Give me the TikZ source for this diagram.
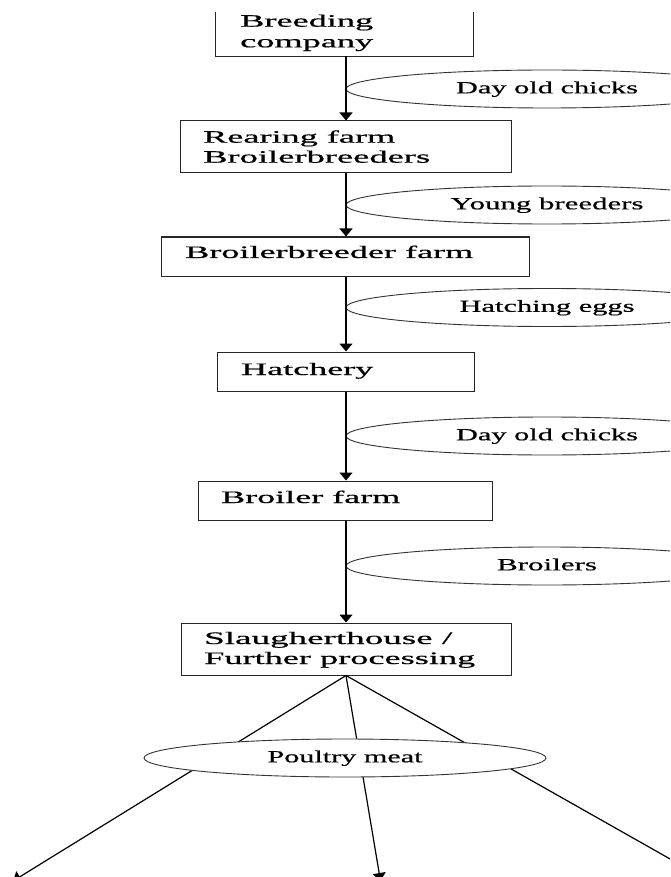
\documentclass[tikz,border=0pt]{standalone}
\usepackage{fontspec}
\setmainfont{Liberation Serif}[FakeBold=0.5]
\usetikzlibrary{shapes.geometric,arrows.meta}
\newcommand\fw[2]{\resizebox{#1pt}{\height}{#2}}
\begin{document}
\begin{tikzpicture}[x=1pt,y=-1pt,
  boxline/.style={draw=black!85,line width=1pt},
  flowbox/.style={rectangle,boxline,inner sep=0pt},
  flow/.style={ellipse,draw=black!80,line width=0.9pt,fill=white,inner sep=0pt,
    minimum width=402pt,minimum height=38pt,text height=12pt,text depth=3.4pt,
    font=\fontsize{17}{19}\selectfont},
  boxtext/.style={anchor=base west,inner sep=0pt,font=\fontsize{17.5}{20}\selectfont},
  arr/.style={line width=1.5pt,-{Triangle[width=13pt,length=8pt]}},
  fan/.style={line width=1.2pt,-{Triangle[width=13pt,length=8pt]}}]
\useasboundingbox (0,0) rectangle (670,877);
\clip (0,0) rectangle (670,877);
\coordinate (spine) at (346,0);

% boxes
\node[inner sep=0pt,minimum width=257pt,minimum height=44pt] (b1) at (344.5,34) {};
\draw[boxline] (b1.north west) -- (b1.south west) -- (b1.south east) -- (b1.north east);
\node[flowbox,minimum width=331pt,minimum height=52pt] (b2) at (345.5,147) {};
\node[flowbox,minimum width=368pt,minimum height=39pt] (b3) at (345,256.5) {};
\node[flowbox,minimum width=257pt,minimum height=39pt] (b4) at (345.5,371.5) {};
\node[flowbox,minimum width=294pt,minimum height=39pt] (b5) at (345,500.5) {};
\node[flowbox,minimum width=330pt,minimum height=52pt] (b6) at (346,649) {};

% box texts
\node[boxtext] (t1a) at (240,26.7) {\fw{133}{Breeding}};
\node[boxtext] (t1b) at (240,47.3) {\fw{133}{company}};
\node[boxtext] (t2a) at (203,142.7) {\fw{192}{Rearing farm}};
\node[boxtext] (t2b) at (203,162.7) {\fw{227}{Broilerbreeders}};
\node[boxtext] (t3) at (185,258) {\fw{288}{Broilerbreeder farm}};
\node[boxtext] (t4) at (241,375) {\fw{132}{Hatchery}};
\node[boxtext] (t5) at (221,503) {\fw{179}{Broiler farm}};
\node[boxtext] (t6a) at (204,644) {\fw{248}{Slaugherthouse /}};
\node[boxtext] (t6b) at (204,664) {\fw{271}{Further processing}};

% ellipses on the spine
\node[flow] (e1) at (547,89) {\fw{182}{Day old chicks}};
\node[flow] (e2) at (547,205) {\fw{193}{Young breeders}};
\node[flow] (e3) at (547,307.5) {\fw{175}{Hatching eggs}};
\node[flow] (e4) at (547,436) {\fw{182}{Day old chicks}};
\node[flow] (e5) at (547,566) {\fw{100}{Broilers}};

% arrows
\draw[arr] (b1.south -| spine) -- (b2.north -| spine);
\draw[arr] (b2.south -| spine) -- (b3.north -| spine);
\draw[arr] (b3.south -| spine) -- (b4.north -| spine);
\draw[arr] (b4.south -| spine) -- (b5.north -| spine);
\draw[arr] (b5.south -| spine) -- (b6.north -| spine);

% fan
\coordinate (o1) at (13,881);
\coordinate (o2) at (380.5,881);
\coordinate (o3) at (709,881);
\draw[fan] (b6.south) -- (o1);
\draw[fan] (b6.south) -- (o2);
\draw[fan] (b6.south) -- (o3);
\node[flow] (e6) at (345,758) {\fw{155}{Poultry meat}};
\end{tikzpicture}
\end{document}
